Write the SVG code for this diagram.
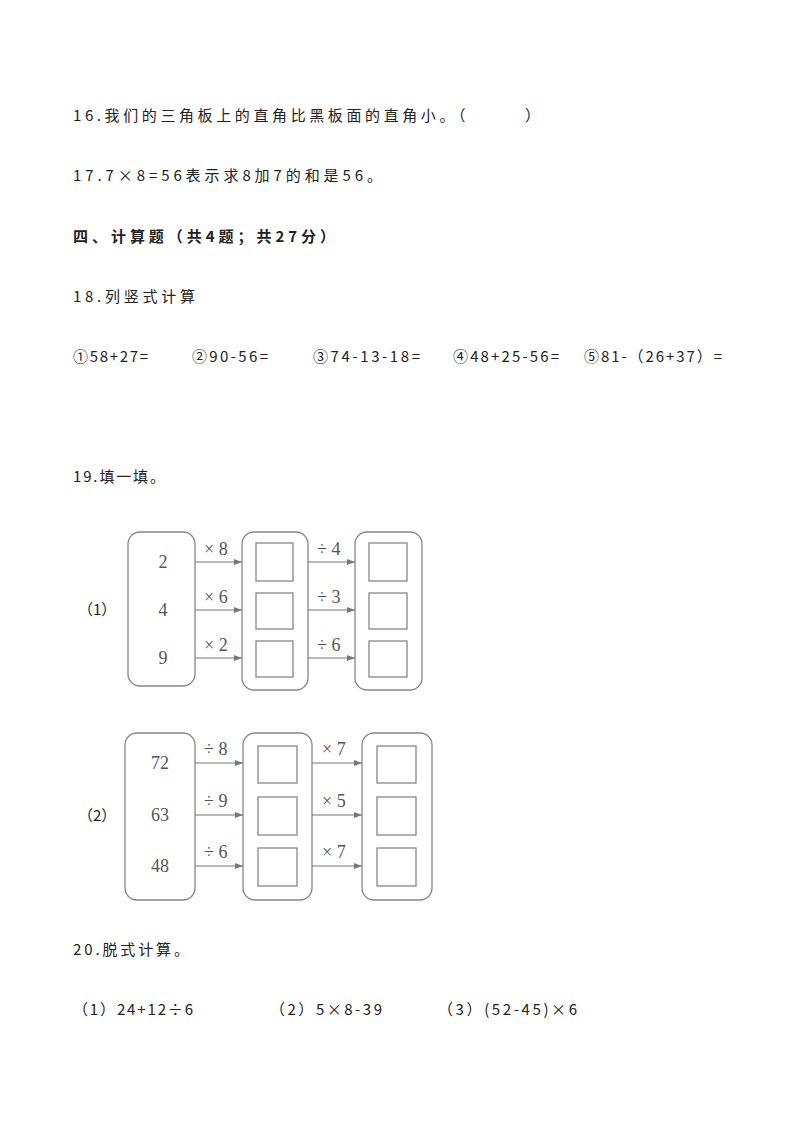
<svg xmlns="http://www.w3.org/2000/svg" width="794" height="1123" viewBox="0 0 794 1123">
<defs>
<marker id="ah" markerWidth="8" markerHeight="6" refX="8" refY="3" orient="auto" markerUnits="userSpaceOnUse"><path d="M0,0 L8,3 L0,6 Z" fill="#777"/></marker>
<style>
.t{font-family:"Noto Sans CJK SC","Noto Sans",sans-serif;font-size:15px;fill:#222}
.b{font-weight:bold}
.n{font-family:"Liberation Serif",serif;font-size:18px;fill:#555;text-anchor:middle}
.op{font-family:"Liberation Serif",serif;font-size:18px;fill:#555}
.box{fill:none;stroke:#888;stroke-width:1.3}
.sq{fill:#fff;stroke:#888;stroke-width:1.3}
.ar{stroke:#777;stroke-width:1.2;marker-end:url(#ah)}
</style>
</defs>
<rect width="794" height="1123" fill="#fff"/>
<text class="t" x="73" y="121" textLength="467" lengthAdjust="spacing">16.我们的三角板上的直角比黑板面的直角小。（　　　）</text>
<text class="t" x="73" y="181" textLength="309" lengthAdjust="spacing">17.7×8=56表示求8加7的和是56。</text>
<text class="t b" x="73" y="242" textLength="262" lengthAdjust="spacing">四、计算题（共4题；共27分）</text>
<text class="t" x="73" y="302" textLength="122" lengthAdjust="spacing">18.列竖式计算</text>
<text class="t" x="73" y="362" textLength="75" lengthAdjust="spacing">①58+27=</text>
<text class="t" x="192" y="362" textLength="76" lengthAdjust="spacing">②90-56=</text>
<text class="t" x="313" y="362" textLength="107" lengthAdjust="spacing">③74-13-18=</text>
<text class="t" x="453" y="362" textLength="106" lengthAdjust="spacing">④48+25-56=</text>
<text class="t" x="584" y="362" textLength="138" lengthAdjust="spacing">⑤81-（26+37）=</text>
<text class="t" x="73" y="482" textLength="92" lengthAdjust="spacing">19.填一填。</text>
<text class="t" x="78" y="615">（1）</text>
<g id="d1left"><rect class="box" x="128" y="532" width="67" height="154" rx="12"/>
<text class="n" x="163" y="568">2</text><text class="n" x="163" y="616">4</text><text class="n" x="163" y="664">9</text></g>
<g id="d1mid"><rect class="box" x="242" y="532" width="66" height="158" rx="12"/>
<rect class="sq" x="256" y="543" width="37" height="38"/><rect class="sq" x="256" y="593" width="37" height="36"/><rect class="sq" x="256" y="641" width="37" height="36"/></g>
<g id="d1right"><rect class="box" x="355" y="532" width="67" height="158" rx="12"/>
<rect class="sq" x="369" y="543" width="38" height="38"/><rect class="sq" x="369" y="593" width="38" height="36"/><rect class="sq" x="369" y="641" width="38" height="36"/></g>
<g id="d1conn">
<line class="ar" x1="195" y1="562" x2="242" y2="562"/><line class="ar" x1="195" y1="610" x2="242" y2="610"/><line class="ar" x1="195" y1="658" x2="242" y2="658"/>
<line class="ar" x1="308" y1="562" x2="355" y2="562"/><line class="ar" x1="308" y1="610" x2="355" y2="610"/><line class="ar" x1="308" y1="658" x2="355" y2="658"/>
<text class="op" x="204" y="555">× 8</text><text class="op" x="204" y="603">× 6</text><text class="op" x="204" y="651">× 2</text>
<text class="op" x="317" y="555">÷ 4</text><text class="op" x="317" y="603">÷ 3</text><text class="op" x="317" y="651">÷ 6</text>
</g>
<text class="t" x="78" y="821">（2）</text>
<g id="d2left"><rect class="box" x="125" y="733" width="70" height="167" rx="12"/>
<text class="n" x="160" y="769">72</text><text class="n" x="160" y="821">63</text><text class="n" x="160" y="872">48</text></g>
<g id="d2mid"><rect class="box" x="243" y="733" width="69" height="167" rx="12"/>
<rect class="sq" x="258" y="746" width="39" height="37"/><rect class="sq" x="258" y="797" width="39" height="38"/><rect class="sq" x="258" y="848" width="39" height="38"/></g>
<g id="d2right"><rect class="box" x="362" y="733" width="70" height="167" rx="12"/>
<rect class="sq" x="377" y="746" width="39" height="37"/><rect class="sq" x="377" y="797" width="39" height="38"/><rect class="sq" x="377" y="848" width="39" height="38"/></g>
<g id="d2conn">
<line class="ar" x1="195" y1="763" x2="243" y2="763"/><line class="ar" x1="195" y1="815" x2="243" y2="815"/><line class="ar" x1="195" y1="866" x2="243" y2="866"/>
<line class="ar" x1="312" y1="763" x2="362" y2="763"/><line class="ar" x1="312" y1="815" x2="362" y2="815"/><line class="ar" x1="312" y1="866" x2="362" y2="866"/>
<text class="op" x="204" y="755">÷ 8</text><text class="op" x="204" y="807">÷ 9</text><text class="op" x="204" y="858">÷ 6</text>
<text class="op" x="322" y="755">× 7</text><text class="op" x="322" y="807">× 5</text><text class="op" x="322" y="858">× 7</text>
</g>
<text class="t" x="73" y="955" textLength="116" lengthAdjust="spacing">20.脱式计算。</text>
<text class="t" x="73" y="1015" textLength="120" lengthAdjust="spacing">（1）24+12÷6</text>
<text class="t" x="270" y="1015" textLength="112" lengthAdjust="spacing">（2）5×8-39</text>
<text class="t" x="438" y="1015" textLength="139" lengthAdjust="spacing">（3）(52-45)×6</text>
</svg>
